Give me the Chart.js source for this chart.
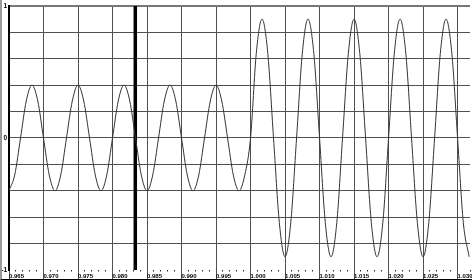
<!DOCTYPE html>
<html>
<head>
<meta charset="utf-8">
<script src="https://cdn.jsdelivr.net/npm/chart.js@4.4.1/dist/chart.umd.min.js"></script>
<style>
  html, body { margin: 0; padding: 0; background: #fff; }
  #wrap { width: 470px; height: 279px; border-left: 2px solid #9a9a9a; border-bottom: 1px solid #000; overflow: hidden; }
  canvas { display: block; }
</style>
</head>
<body>
<div id="wrap"><canvas id="scopeChart" width="470" height="279"></canvas></div>
<script>
// ===== SCOPE TRACE =====

// sample times (s) at ~1/8 period steps
const times = [
  0.96500, 0.96583, 0.96667, 0.96750, 0.96833, 0.96917, 0.97000, 0.97083,
  0.97167, 0.97250, 0.97333, 0.97417, 0.97500, 0.97583, 0.97667, 0.97750,
  0.97833, 0.97917, 0.98000, 0.98083, 0.98167, 0.98250, 0.98333, 0.98417,
  0.98500, 0.98583, 0.98667, 0.98750, 0.98833, 0.98917, 0.99000, 0.99083,
  0.99167, 0.99250, 0.99333, 0.99417, 0.99500, 0.99583, 0.99667, 0.99750,
  0.99833, 0.99917, 1.00000, 1.00083, 1.00167, 1.00250, 1.00333, 1.00417,
  1.00500, 1.00583, 1.00667, 1.00750, 1.00833, 1.00917, 1.01000, 1.01083,
  1.01167, 1.01250, 1.01333, 1.01417, 1.01500, 1.01583, 1.01667, 1.01750,
  1.01833, 1.01917, 1.02000, 1.02083, 1.02167, 1.02250, 1.02333, 1.02417,
  1.02500, 1.02583, 1.02667, 1.02750, 1.02833, 1.02917, 1.03000, 1.03083,
  1.03167
];

const volts = [
  -0.40, -0.28, 0, 0.28, 0.40, 0.28, 0, -0.28,
  -0.40, -0.28, 0, 0.28, 0.40, 0.28, 0, -0.28,
  -0.40, -0.28, 0, 0.28, 0.40, 0.28, 0, -0.28,
  -0.40, -0.28, 0, 0.28, 0.40, 0.28, 0, -0.28,
  -0.40, -0.28, 0, 0.28, 0.40, 0.28, 0, -0.28,
  -0.40, -0.28, 0, 0.64, 0.90, 0.64, 0, -0.64,
  -0.90, -0.64, 0, 0.64, 0.90, 0.64, 0, -0.64,
  -0.90, -0.64, 0, 0.64, 0.90, 0.64, 0, -0.64,
  -0.90, -0.64, 0, 0.64, 0.90, 0.64, 0, -0.64,
  -0.90, -0.64, 0, 0.64, 0.90, 0.64, 0, -0.64,
  -0.90
];

// cursor marker
const cursorTime = 0.9833;

// axis ranges / ticks
const xMin = 0.965, xMax = 1.0318, xMinorStep = 0.001;
const yMin = -1, yMax = 1, yStep = 0.2;
const yLabels = { '1': '1', '0': '0', '-1': '-1' };

const GRID = '#505050';

function isMajorX(v) {
  const k = v * 1000;
  return Math.abs(k - Math.round(k)) < 1e-6 && Math.round(k) % 5 === 0;
}

function yKey(v) {
  return String(Math.round(v * 10) / 10);
}

function renderChart() {
  const ctx = document.getElementById('scopeChart').getContext('2d');

  new Chart(ctx, {
    type: 'line',
    data: {
      datasets: [
        {
          data: times.map((t, i) => ({ x: t, y: volts[i] })),
          borderColor: '#333',
          borderWidth: 1,
          pointRadius: 0,
          cubicInterpolationMode: 'monotone',
          fill: false
        },
        {
          data: [{ x: cursorTime, y: yMin }, { x: cursorTime, y: yMax }],
          borderColor: '#000',
          borderWidth: 3.5,
          pointRadius: 0
        }
      ]
    },
    options: {
      responsive: false,
      animation: false,
      layout: { padding: { top: 5, right: 2, left: 0, bottom: 0 } },
      plugins: { legend: { display: false }, tooltip: { enabled: false } },
      scales: {
        x: {
          type: 'linear',
          min: xMin,
          max: xMax,
          afterFit: s => { s.height = 9; },
          border: { display: false },
          grid: {
            color: c => isMajorX(c.tick.value) ? GRID : 'rgba(0,0,0,0)',
            tickColor: c => isMajorX(c.tick.value) ? GRID : '#222',
            tickBorderDash: c => isMajorX(c.tick.value) ? [] : [1.5, 20],
            tickLength: 9,
            lineWidth: 1
          },
          ticks: {
            stepSize: xMinorStep,
            autoSkip: false,
            maxRotation: 0,
            align: 'start',
            padding: -6,
            color: '#000',
            font: { family: 'Liberation Sans', size: 6, weight: 'bold' },
            callback: v => isMajorX(v) ? v.toFixed(3) : ''
          }
        },
        y: {
          min: yMin,
          max: yMax,
          afterFit: s => { s.width = 7; },
          border: { display: true, color: '#000', width: 2 },
          grid: {
            drawTicks: false,
            color: c => {
              const k = yKey(c.tick.value);
              if (k === '-1') return 'rgba(0,0,0,0)';
              if (k === '1') return '#777';
              return GRID;
            },
            lineWidth: c => yKey(c.tick.value) === '1' ? 2 : 1
          },
          ticks: {
            stepSize: yStep,
            autoSkip: false,
            padding: 2,
            color: '#000',
            font: { family: 'Liberation Sans', size: 6.5, weight: 'bold' },
            callback: v => yLabels[yKey(v)] || ''
          }
        }
      }
    }
  });
}

document.addEventListener('DOMContentLoaded', renderChart);
</script>
</body>
</html>
